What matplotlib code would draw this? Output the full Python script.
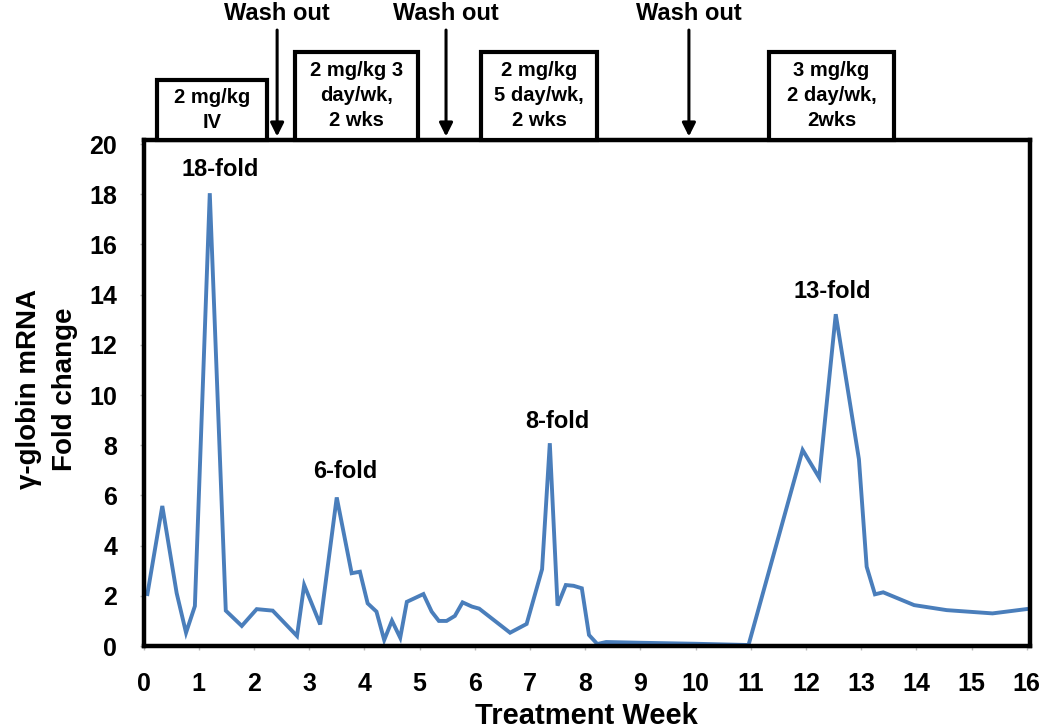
import matplotlib
matplotlib.use("Agg")
import matplotlib.pyplot as plt
from matplotlib.patches import Rectangle

plt.rcParams['font.family'] = ['Liberation Sans', 'DejaVu Sans']
plt.rcParams['font.weight'] = 'bold'

# treatment week vs fold change
weeks = [0.07, 0.34, 0.60, 0.77, 0.93, 1.20, 1.49, 1.78, 2.05, 2.34,
         2.78, 2.91, 3.20, 3.50, 3.77, 3.92, 4.06, 4.22, 4.36, 4.50,
         4.65, 4.77, 5.07, 5.22, 5.35, 5.49, 5.64, 5.78, 5.95, 6.08,
         6.64, 6.94, 7.22, 7.36, 7.50, 7.65, 7.79, 7.94, 8.07, 8.22,
         8.38, 9.0, 10.0, 10.96, 11.94, 12.24, 12.54, 12.96, 13.10, 13.25,
         13.40, 13.96, 14.55, 15.38, 15.99]
fold = [2.07, 5.58, 2.11, 0.53, 1.59, 18.04, 1.41, 0.80, 1.47, 1.41,
        0.40, 2.43, 0.86, 5.92, 2.90, 2.96, 1.70, 1.37, 0.24, 1.01,
        0.33, 1.76, 2.07, 1.37, 1.00, 1.00, 1.20, 1.74, 1.57, 1.49,
        0.53, 0.88, 3.06, 8.08, 1.61, 2.43, 2.40, 2.30, 0.44, 0.08,
        0.16, 0.13, 0.09, 0.04, 7.81, 6.71, 13.22, 7.44, 3.16, 2.06,
        2.14, 1.63, 1.43, 1.30, 1.47]

peak_labels = ["18-fold", "6-fold", "8-fold", "13-fold"]
peak_x = [1.39, 3.66, 7.49, 12.47]
peak_y = [19.0, 6.94, 8.96, 14.12]

box_texts = ["2 mg/kg\nIV", "2 mg/kg 3\nday/wk,\n2 wks",
             "2 mg/kg\n5 day/wk,\n2 wks", "3 mg/kg\n2 day/wk,\n2wks"]
box_start = [0.24, 2.74, 6.11, 11.33]
box_end = [2.23, 4.98, 8.22, 13.60]
box_top = [22.55, 23.67, 23.67, 23.67]

washout_x = [2.42, 5.48, 9.88]

fig = plt.figure(figsize=(10.5, 7.28), dpi=100)
ax = fig.add_axes([0.1367, 0.1126, 0.8443, 0.6951])

ax.plot(weeks, fold, color='#4a7ebb', lw=2.8, solid_joinstyle='miter')

ax.set_xlim(0, 16.06)
ax.set_ylim(0, 20.16)
ax.set_xticks(range(0, 17))
ax.set_yticks(range(0, 21, 2))
for sp in ax.spines.values():
    sp.set_linewidth(3.2)
    sp.set_color('black')
ax.tick_params(axis='both', length=3, width=1, color='#bbbbbb',
               labelsize=18, pad=16)
for lab in ax.get_xticklabels() + ax.get_yticklabels():
    lab.set_fontweight('bold')

ax.set_xlabel("Treatment Week", fontsize=21, fontweight='bold', labelpad=4)
fig.text(0.045, 0.465, "\u03b3-globin mRNA\nFold change", rotation=90,
         ha='center', va='center', fontsize=20, fontweight='bold',
         multialignment='center', linespacing=1.5)

for t, x, y in zip(peak_labels, peak_x, peak_y):
    ax.text(x, y, t, ha='center', va='center', fontsize=17, fontweight='bold')

for t, x0, x1, top in zip(box_texts, box_start, box_end, box_top):
    ax.add_patch(Rectangle((x0, 20.16), x1 - x0, top - 20.16, fill=True,
                           facecolor='white', edgecolor='black', lw=3,
                           clip_on=False, zorder=5))
    ax.text((x0 + x1) / 2, (20.16 + top) / 2, t, ha='center', va='center',
            fontsize=14.5, fontweight='bold', linespacing=1.4, zorder=6,
            clip_on=False)

for x in washout_x:
    ax.annotate("", xy=(x, 20.3), xytext=(x, 24.54),
                arrowprops=dict(arrowstyle='-|>', lw=2.2, color='black',
                                mutation_scale=20, shrinkA=0, shrinkB=0),
                annotation_clip=False)
    ax.text(x, 25.2, "Wash out", ha='center', va='center', fontsize=17,
            fontweight='bold', clip_on=False)

fig.savefig("out.png", dpi=100)
